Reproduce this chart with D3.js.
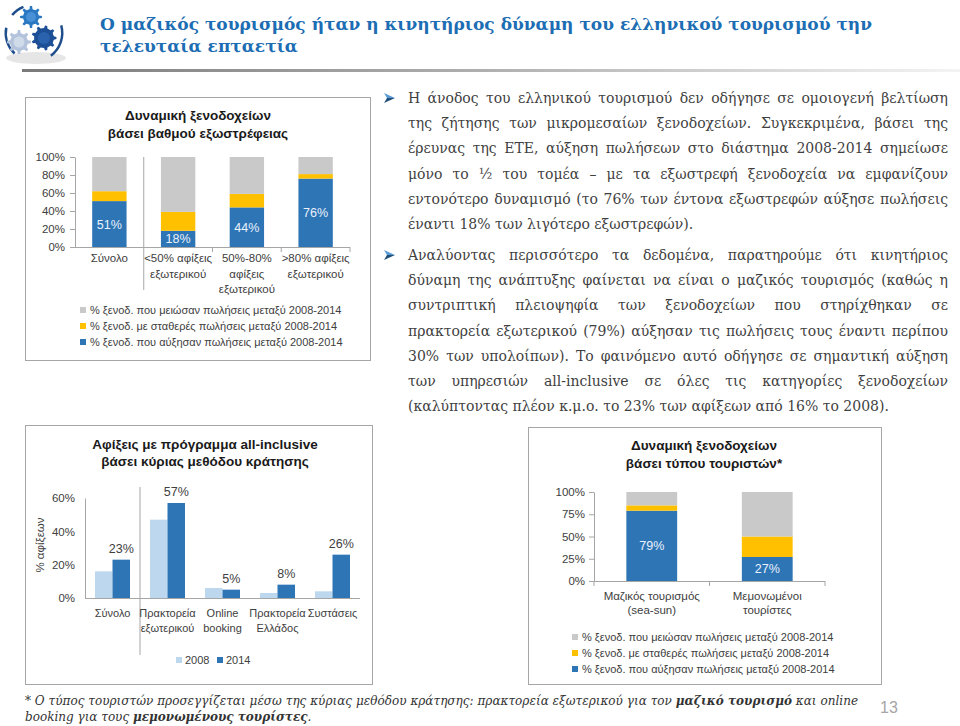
<!DOCTYPE html>
<html><head><meta charset="utf-8">
<script src="https://cdn.jsdelivr.net/npm/d3@7"></script>
<style>body{margin:0;background:#fff}svg{display:block}</style>
</head><body>
<svg id="c" width="960" height="726"></svg>
<script>
// ---------------- DATA ----------------
const pageTitle = ["Ο μαζικός τουρισμός ήταν η κινητήριος δύναμη του ελληνικού τουρισμού την", "τελευταία επταετία"];

const para1 = [
  "Η άνοδος του ελληνικού τουρισμού δεν οδήγησε σε ομοιογενή βελτίωση",
  "της ζήτησης των μικρομεσαίων ξενοδοχείων. Συγκεκριμένα, βάσει της",
  "έρευνας της ΕΤΕ, αύξηση πωλήσεων στο διάστημα 2008-2014 σημείωσε",
  "μόνο το ½ του τομέα – με τα εξωστρεφή ξενοδοχεία να εμφανίζουν",
  "εντονότερο δυναμισμό (το 76% των έντονα εξωστρεφών αύξησε πωλήσεις",
  "έναντι 18% των λιγότερο εξωστρεφών)."
];
const para2 = [
  "Αναλύοντας περισσότερο τα δεδομένα, παρατηρούμε ότι κινητήριος",
  "δύναμη της ανάπτυξης φαίνεται να είναι ο μαζικός τουρισμός (καθώς η",
  "συντριπτική πλειοψηφία των ξενοδοχείων που στηρίχθηκαν σε",
  "πρακτορεία εξωτερικού (79%) αύξησαν τις πωλήσεις τους έναντι περίπου",
  "30% των υπολοίπων). Το φαινόμενο αυτό οδήγησε σε σημαντική αύξηση",
  "των υπηρεσιών all-inclusive σε όλες τις κατηγορίες ξενοδοχείων",
  "(καλύπτοντας πλέον κ.μ.ο. το 23% των αφίξεων από 16% το 2008)."
];

const footLine1 = [["* Ο τύπος τουριστών προσεγγίζεται μέσω της κύριας μεθόδου κράτησης: πρακτορεία εξωτερικού για τον ", false], ["μαζικό τουρισμό", true], [" και online", false]];
const footLine2 = [["booking για τους ", false], ["μεμονωμένους τουρίστες", true], [".", false]];
const pageNumber = "13";

const seriesNames = [
  "% ξενοδ. που μειώσαν πωλήσεις μεταξύ 2008-2014",
  "% ξενοδ. με σταθερές πωλήσεις μεταξύ 2008-2014",
  "% ξενοδ. που αύξησαν πωλήσεις μεταξύ 2008-2014"
];

// Chart 1
const c1Title = ["Δυναμική ξενοδοχείων", "βάσει βαθμού εξωστρέφειας"];
const c1Categories = ["Σύνολο", "<50% αφίξεις\nεξωτερικού", "50%-80%\nαφίξεις\nεξωτερικού", ">80% αφίξεις\nεξωτερικού"];
const c1Increased = [51, 18, 44, 76];
const c1Stable = [11, 21, 15, 5];
const c1Decreased = [38, 61, 41, 19];
const c1Ticks = [0, 20, 40, 60, 80, 100];

// Chart 2
const c2Title = ["Αφίξεις με πρόγραμμα all-inclusive", "βάσει κύριας μεθόδου κράτησης"];
const c2Categories = ["Σύνολο", "Πρακτορεία\nεξωτερικού", "Online\nbooking", "Πρακτορεία\nΕλλάδος", "Συστάσεις"];
const c2Years = ["2008", "2014"];
const c2Values2008 = [16, 47, 6, 3, 4];
const c2Values2014 = [23, 57, 5, 8, 26];
const c2Ticks = [0, 20, 40, 60];
const c2AxisTitle = "% αφίξεων";

// Chart 3
const c3Title = ["Δυναμική ξενοδοχείων", "βάσει τύπου τουριστών*"];
const c3Categories = ["Μαζικός τουρισμός\n(sea-sun)", "Μεμονωμένοι\nτουρίστες"];
const c3Increased = [79, 27];
const c3Stable = [6, 23];
const c3Decreased = [15, 50];
const c3Ticks = [0, 25, 50, 75, 100];

// ---------------- STYLE ----------------
const BLUE = "#2e75b6", YELLOW = "#ffc000", GREY = "#c9c9c9", LIGHT = "#bdd7ee";
const TXT = "#404040", AXIS = "#a6a6a6";
const SANS = "'Liberation Sans', Arial, sans-serif";
const FS = 11;
const svg = d3.select("#c");

// ---------------- HEADER ----------------
function gearPath(cx, cy, ro, ri, n) {
  const pts = [];
  for (let i = 0; i < n; i++) {
    const a = i / n * 2 * Math.PI, s = Math.PI / n;
    pts.push([a - s * 0.5, ri], [a - s * 0.25, ro], [a + s * 0.25, ro], [a + s * 0.5, ri]);
  }
  return "M" + pts.map(([a, r]) => [cx + r * Math.cos(a), cy + r * Math.sin(a)].join(",")).join("L") + "Z";
}
const logo = svg.append("g");
logo.append("ellipse").attr("cx", 36).attr("cy", 58).attr("rx", 30).attr("ry", 6).attr("fill", "#e6e6e6");
const arc = d3.arc().innerRadius(27).outerRadius(29.5);
[[3.9, 4.9], [1.3, 2.5], [5.4, 5.9]].forEach(([s, e]) =>
  logo.append("path").attr("transform", "translate(34,33)").attr("d", arc({startAngle: s, endAngle: e})).attr("fill", "#1f4e8c"));
logo.append("path").attr("d", gearPath(31, 17, 11, 8, 8)).attr("fill", "#2b78c2");
logo.append("circle").attr("cx", 31).attr("cy", 17).attr("r", 5).attr("fill", "#4a90d6");
logo.append("path").attr("d", gearPath(19, 42, 12, 9, 8)).attr("fill", "#b3c3dc");
logo.append("circle").attr("cx", 19).attr("cy", 42).attr("r", 5.5).attr("fill", "#d0dbea");
logo.append("path").attr("d", gearPath(44, 38, 12.5, 10, 9)).attr("fill", "#1d4f96");
logo.append("circle").attr("cx", 44).attr("cy", 38).attr("r", 6).attr("fill", "#2a62ad");

svg.append("text").attr("x", 100).attr("y", 30).attr("textLength", 772).attr("lengthAdjust", "spacing")
  .attr("font-family", "'DejaVu Serif', serif").attr("font-weight", "bold").attr("font-size", 17)
  .attr("fill", "#1c6db3").text(pageTitle[0]);
svg.append("text").attr("x", 100).attr("y", 52)
  .attr("font-family", "'DejaVu Serif', serif").attr("font-weight", "bold").attr("font-size", 17)
  .attr("fill", "#1c6db3").text(pageTitle[1]);

const defs = svg.append("defs");
const lg = defs.append("linearGradient").attr("id", "rule").attr("x1", 0).attr("x2", 1);
lg.append("stop").attr("offset", 0).attr("stop-color", "#7a7a7a");
lg.append("stop").attr("offset", 0.5).attr("stop-color", "#b0b0b0");
lg.append("stop").attr("offset", 1).attr("stop-color", "#f4f4f4");
svg.append("rect").attr("x", 22).attr("y", 69).attr("width", 938).attr("height", 3).attr("fill", "url(#rule)");

// ---------------- BODY TEXT ----------------
function bullet(x, y) {
  svg.append("path").attr("d", `M${x},${y - 5} L${x + 11},${y} L${x + 3},${y}Z`).attr("fill", "#5b9bd5");
  svg.append("path").attr("d", `M${x + 3},${y} L${x + 11},${y} L${x},${y + 5}Z`).attr("fill", "#1f4e79");
}
const bodyG = svg.append("g").attr("font-family", "'DejaVu Serif', serif").attr("font-size", 14).attr("fill", "#3f3f3f");
function justLine(str, x, y, width, justify) {
  const t = bodyG.append("text").attr("y", y);
  if (!justify) { t.attr("x", x).text(str); return; }
  const words = str.split(" ");
  const lens = words.map(w => { const s = bodyG.append("text").text(w); const l = s.node().getComputedTextLength(); s.remove(); return l; });
  const total = d3.sum(lens);
  const gap = (width - total) / (words.length - 1);
  let cx = x;
  words.forEach((w, i) => { t.append("tspan").attr("x", cx).text(w); cx += lens[i] + gap; });
}
const TX = 408, TW = 540;
bullet(384, 98);
para1.forEach((l, i) => justLine(l, TX, 103 + i * 25.2, TW, i < para1.length - 1));
bullet(384, 255);
para2.forEach((l, i) => justLine(l, TX, 260 + i * 25.2, TW, i < para2.length - 1));

// ---------------- helpers ----------------
function box(x, y, w, h) {
  svg.append("rect").attr("x", x + 0.5).attr("y", y + 0.5).attr("width", w).attr("height", h)
    .attr("fill", "none").attr("stroke", AXIS).attr("stroke-width", 1);
}
function title(lines, cx, y0, dy) {
  lines.forEach((l, i) => svg.append("text").attr("x", cx).attr("y", y0 + i * dy).attr("text-anchor", "middle")
    .attr("font-family", SANS).attr("font-weight", "bold").attr("font-size", 13.5).attr("fill", "#1a1a1a").text(l));
}
function multiLabel(g, str, x, y, dy) {
  const t = g.append("text").attr("x", x).attr("y", y).attr("text-anchor", "middle");
  str.split("\n").forEach((s, i) => t.append("tspan").attr("x", x).attr("dy", i ? dy : 0).text(s));
}
function styleAxis(g) {
  g.selectAll("path.domain").attr("stroke", AXIS);
  g.selectAll(".tick line").attr("stroke", AXIS);
  g.selectAll("text").attr("fill", TXT).attr("font-family", SANS).attr("font-size", 11.5);
}
function legendRows(names, colors, x, y0, dy) {
  const g = svg.append("g").attr("font-family", SANS).attr("font-size", FS).attr("fill", TXT);
  names.forEach((n, i) => {
    g.append("rect").attr("x", x).attr("y", y0 + i * dy - 3).attr("width", 6).attr("height", 6).attr("fill", colors[i]);
    g.append("text").attr("x", x + 10).attr("y", y0 + i * dy + 4).text(n);
  });
}

function stackedChart(cfg) {
  const {cats, inc, stab, dec, ticks, x0, x1, y0, y1, pin, pout, tickSize, tickPad, dyCat, catY, sepIndex, sepTop, sepBot} = cfg;
  const rows = cats.map((c, i) => ({cat: c, inc: inc[i], stab: stab[i], dec: dec[i]}));
  const stack = d3.stack().keys(["inc", "stab", "dec"])(rows);
  const x = d3.scaleBand().domain(cats).range([x0, x1]).paddingInner(pin).paddingOuter(pout);
  const y = d3.scaleLinear().domain([0, 100]).range([y0, y1]);
  const colors = [BLUE, YELLOW, GREY];
  const g = svg.append("g");
  stack.forEach((layer, k) => g.selectAll(null).data(layer).join("rect")
    .attr("x", d => x(d.data.cat)).attr("width", x.bandwidth())
    .attr("y", d => y(d[1])).attr("height", d => y(d[0]) - y(d[1])).attr("fill", colors[k]));
  g.selectAll(null).data(rows).join("text")
    .attr("x", d => x(d.cat) + x.bandwidth() / 2).attr("y", d => y(d.inc / 2) + 4.5)
    .attr("text-anchor", "middle").attr("font-family", SANS).attr("font-size", 12.5).attr("fill", "#eaf2fb")
    .text(d => d.inc + "%");
  const ya = svg.append("g").attr("transform", `translate(${x0},0)`)
    .call(d3.axisLeft(y).tickValues(ticks).tickFormat(d => d + "%").tickSize(tickSize).tickSizeOuter(0).tickPadding(tickPad));
  styleAxis(ya);
  const step = x.step();
  svg.append("line").attr("x1", x0).attr("x2", x1).attr("y1", y0 + 0.5).attr("y2", y0 + 0.5).attr("stroke", AXIS);
  cats.forEach((c, i) => {
    const bx = x(c) + x.bandwidth() + (step - x.bandwidth()) / 2;
    const isSep = i === sepIndex;
    svg.append("line").attr("x1", bx).attr("x2", bx).attr("y1", isSep ? sepTop : y0).attr("y2", isSep ? sepBot : y0 + 5).attr("stroke", AXIS);
  });
  const lgc = svg.append("g").attr("font-family", SANS).attr("font-size", 11.5).attr("fill", TXT);
  cats.forEach(c => multiLabel(lgc, c, x(c) + x.bandwidth() / 2, catY, dyCat));
}

// ---------------- CHART 1 ----------------
box(25, 97, 345, 263);
title(c1Title, 198, 120, 18);
stackedChart({cats: c1Categories, inc: c1Increased, stab: c1Stable, dec: c1Decreased, ticks: c1Ticks,
  x0: 75, x1: 350, y0: 247, y1: 157, pin: 0.5, pout: 0.25, tickSize: 5, tickPad: 5,
  dyCat: 15.5, catY: 262, sepIndex: 0, sepTop: 157, sepBot: 290});
legendRows(seriesNames, [GREY, YELLOW, BLUE], 80, 310, 16);

// ---------------- CHART 2 ----------------
box(25, 425, 347, 259);
title(c2Title, 205, 449, 17);
{
  const rows = c2Categories.map((c, i) => ({cat: c, v: [c2Values2008[i], c2Values2014[i]]}));
  const x = d3.scaleBand().domain(c2Categories).range([85, 360]).paddingInner(20 / 55).paddingOuter(10 / 55);
  const xs = d3.scaleBand().domain(c2Years).range([0, x.bandwidth()]);
  const y = d3.scaleLinear().domain([0, 60]).range([598, 498]);
  const colors = [LIGHT, BLUE];
  const g = svg.append("g");
  rows.forEach(r => {
    r.v.forEach((v, j) => g.append("rect").attr("x", x(r.cat) + xs(c2Years[j])).attr("width", xs.bandwidth())
      .attr("y", y(v)).attr("height", y(0) - y(v)).attr("fill", colors[j]));
    g.append("text").attr("x", x(r.cat) + xs("2014") + xs.bandwidth() / 2).attr("y", y(r.v[1]) - 7)
      .attr("text-anchor", "middle").attr("font-family", SANS).attr("font-size", 12.5).attr("fill", TXT).text(r.v[1] + "%");
  });
  const ya = svg.append("g").attr("transform", "translate(85,0)")
    .call(d3.axisLeft(y).tickValues(c2Ticks).tickFormat(d => d + "%").tickSize(0).tickPadding(10));
  styleAxis(ya);
  svg.append("line").attr("x1", 85).attr("x2", 360).attr("y1", 598.5).attr("y2", 598.5).attr("stroke", AXIS);
  const sx = x(c2Categories[0]) + x.step() - x.step() * x.paddingInner() / 2;
  svg.append("line").attr("x1", sx).attr("x2", sx).attr("y1", 487).attr("y2", 655).attr("stroke", AXIS);
  svg.append("text").attr("transform", "translate(44,545) rotate(-90)").attr("text-anchor", "middle")
    .attr("font-family", SANS).attr("font-size", 11.5).attr("fill", TXT).text(c2AxisTitle);
  const lgc = svg.append("g").attr("font-family", SANS).attr("font-size", FS).attr("fill", TXT);
  c2Categories.forEach(c => multiLabel(lgc, c, x(c) + x.bandwidth() / 2, 617, 14.5));
  c2Years.forEach((yr, j) => {
    const lx = 176 + j * 41;
    lgc.append("rect").attr("x", lx).attr("y", 657).attr("width", 6).attr("height", 6).attr("fill", colors[j]);
    lgc.append("text").attr("x", lx + 9).attr("y", 664).text(yr);
  });
}

// ---------------- CHART 3 ----------------
box(528, 427, 353, 257);
title(c3Title, 704, 450, 18);
stackedChart({cats: c3Categories, inc: c3Increased, stab: c3Stable, dec: c3Decreased, ticks: c3Ticks,
  x0: 594, x1: 825, y0: 581, y1: 492, pin: 0.56, pout: 0.28, tickSize: 5, tickPad: 4,
  dyCat: 14, catY: 600, sepIndex: -1, sepTop: 0, sepBot: 0});
svg.append("line").attr("x1", 594).attr("x2", 594).attr("y1", 581).attr("y2", 586).attr("stroke", AXIS);
legendRows(seriesNames, [GREY, YELLOW, BLUE], 572, 637, 16);

// ---------------- FOOTER ----------------
function footLine(segs, y, len) {
  const t = svg.append("text").attr("x", 25).attr("y", y).attr("font-family", "'DejaVu Serif', serif")
    .attr("font-style", "italic").attr("font-size", 12).attr("fill", "#333").style("white-space", "pre");
  if (len) t.attr("textLength", len).attr("lengthAdjust", "spacing");
  segs.forEach(([s, b]) => t.append("tspan").attr("font-weight", b ? "bold" : "normal").text(s));
}
footLine(footLine1, 705, 833);
footLine(footLine2, 721, null);
svg.append("text").attr("x", 880).attr("y", 713).attr("font-family", SANS).attr("font-size", 16).attr("fill", "#a6a6a6").text(pageNumber);
</script>
</body></html>
